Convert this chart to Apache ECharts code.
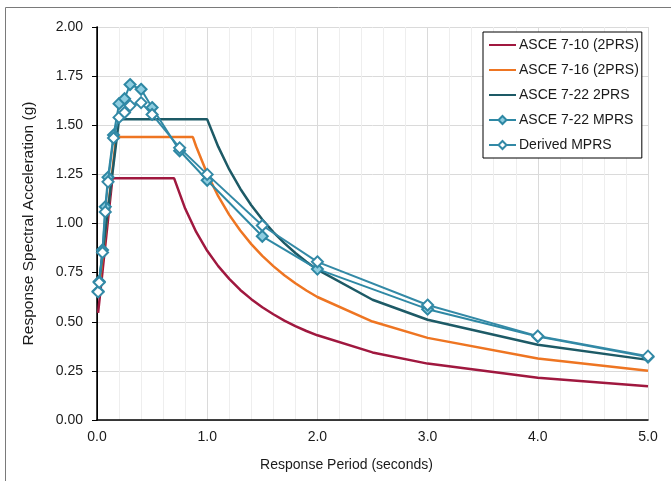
<!DOCTYPE html>
<html>
<head>
<meta charset="utf-8">
<script src="https://cdn.jsdelivr.net/npm/echarts@6/dist/echarts.min.js"></script>
<style>
html,body{margin:0;padding:0;background:#fff;}
#chart{width:671px;height:481px;}
</style>
</head>
<body>
<div id="chart"></div>
<script>
// ---- data ----
const xTicks = [0, 1, 2, 3, 4, 5];
const yTicks = [0, 0.25, 0.5, 0.75, 1.0, 1.25, 1.5, 1.75, 2.0];

const seriesNames = ['ASCE 7-10 (2PRS)', 'ASCE 7-16 (2PRS)', 'ASCE 7-22 2PRS', 'ASCE 7-22 MPRS', 'Derived MPRS'];

const T_710 = [0.01, 0.14, 0.7, 0.8, 0.9, 1.0, 1.1, 1.2, 1.3, 1.4, 1.5, 1.6, 1.7, 1.8, 1.9, 2.0, 2.5, 3.0, 4.0, 5.0];
const V_710 = [0.545, 1.23, 1.23, 1.076, 0.957, 0.861, 0.783, 0.718, 0.662, 0.615, 0.574, 0.538, 0.506, 0.478, 0.453, 0.431, 0.344, 0.287, 0.215, 0.172];

const T_716 = [0.01, 0.174, 0.87, 0.9, 1.0, 1.1, 1.2, 1.3, 1.4, 1.5, 1.6, 1.7, 1.8, 1.9, 2.0, 2.5, 3.0, 4.0, 5.0];
const V_716 = [0.626, 1.44, 1.44, 1.392, 1.253, 1.139, 1.044, 0.964, 0.895, 0.835, 0.783, 0.737, 0.696, 0.659, 0.626, 0.501, 0.418, 0.313, 0.251];

const T_722 = [0.01, 0.2, 1.0, 1.1, 1.2, 1.3, 1.4, 1.5, 1.6, 1.7, 1.8, 1.9, 2.0, 2.5, 3.0, 4.0, 5.0];
const V_722 = [0.658, 1.53, 1.53, 1.391, 1.275, 1.177, 1.093, 1.02, 0.956, 0.9, 0.85, 0.805, 0.765, 0.612, 0.51, 0.383, 0.306];

const T_MPRS = [0.01, 0.02, 0.05, 0.075, 0.1, 0.15, 0.2, 0.25, 0.3, 0.4, 0.5, 0.75, 1.0, 1.5, 2.0, 3.0, 4.0, 5.0];
const V_MPRS = [0.655, 0.705, 0.865, 1.085, 1.235, 1.45, 1.61, 1.635, 1.707, 1.683, 1.59, 1.37, 1.22, 0.935, 0.768, 0.564, 0.425, 0.32];
const V_DERIVED = [0.652, 0.70, 0.852, 1.059, 1.212, 1.435, 1.54, 1.565, 1.60, 1.615, 1.555, 1.385, 1.25, 0.99, 0.805, 0.585, 0.427, 0.325];

const colors = ['#A0183F', '#EE7522', '#1D5A66', '#2E88A4', '#3389A6'];
const markerFills = [null, null, null, '#8ECDE0', '#FFFFFF'];

// ---- build ----
function zip(t, v) { return t.map((x, i) => [x, v[i]]); }
const datasets = [zip(T_710, V_710), zip(T_716, V_716), zip(T_722, V_722), zip(T_MPRS, V_MPRS), zip(T_MPRS, V_DERIVED)];

const FONT = 'Liberation Sans, Arial, sans-serif';
const chart = echarts.init(document.getElementById('chart'), null, {renderer: 'canvas'});

const series = datasets.map((d, i) => {
  const withMarker = markerFills[i] !== null;
  return {
    name: seriesNames[i],
    type: 'line',
    data: d,
    smooth: false,
    z: 2 + i,
    symbol: withMarker ? 'diamond' : 'none',
    symbolSize: withMarker ? 11 : 0,
    showSymbol: withMarker,
    lineStyle: {color: colors[i], width: withMarker ? 2 : 2.5},
    itemStyle: withMarker ? {color: markerFills[i], borderColor: colors[i], borderWidth: 2} : {color: colors[i]},
    emphasis: {disabled: true},
    animation: false
  };
});

const legendData = seriesNames.map((n, i) => markerFills[i] === null
  ? {name: n, itemStyle: {opacity: 0}}
  : {name: n});

const option = {
  animation: false,
  backgroundColor: '#ffffff',
  textStyle: {fontFamily: FONT},
  grid: {left: 97, right: 23, top: 27, bottom: 61, containLabel: false},
  graphic: [{
    type: 'rect',
    shape: {x: 5.5, y: 7.5, width: 720, height: 520},
    style: {fill: 'none', stroke: '#7a7a7a', lineWidth: 1},
    silent: true, z: -1
  }],
  legend: {
    show: true,
    left: 483, top: 32,
    orient: 'vertical',
    itemWidth: 27, itemHeight: 10,
    itemGap: 11,
    padding: [6, 3, 6, 5],
    borderColor: '#000', borderWidth: 1,
    backgroundColor: '#fff',
    textStyle: {fontFamily: FONT, fontSize: 14, color: '#1a1a1a', padding: [0, 0, 0, -2]},
    data: legendData
  },
  xAxis: {
    type: 'value',
    min: xTicks[0], max: xTicks[xTicks.length - 1], interval: 1,
    name: 'Response Period (seconds)',
    nameLocation: 'middle', nameGap: 38,
    nameTextStyle: {fontFamily: FONT, fontSize: 14, color: '#1a1a1a', padding: [0, 52, 0, 0]},
    axisLine: {show: true, onZero: false, lineStyle: {color: '#000', width: 1.5}},
    axisTick: {show: false},
    minorTick: {show: false, splitNumber: 5},
    axisLabel: {fontFamily: FONT, fontSize: 14, color: '#1a1a1a', margin: 10, formatter: v => v.toFixed(1)},
    splitLine: {show: true, lineStyle: {color: '#DADADA', width: 1}},
    minorSplitLine: {show: true, lineStyle: {color: '#EEEEEE', width: 1}}
  },
  yAxis: [{
    type: 'value',
    min: yTicks[0], max: yTicks[yTicks.length - 1], interval: 0.25,
    name: 'Response Spectral Acceleration (g)',
    nameLocation: 'middle', nameGap: 60,
    nameTextStyle: {fontFamily: FONT, fontSize: 15.5, color: '#1a1a1a'},
    axisLine: {show: true, onZero: false, lineStyle: {color: '#000', width: 1.5}},
    axisTick: {show: true, inside: false, length: 5, lineStyle: {color: '#000', width: 1}},
    axisLabel: {fontFamily: FONT, fontSize: 14, color: '#1a1a1a', margin: 14, formatter: v => v.toFixed(2)},
    splitLine: {show: true, lineStyle: {color: '#DADADA', width: 1}}
  }, {
    type: 'value', position: 'right',
    min: yTicks[0], max: yTicks[yTicks.length - 1], interval: 0.25,
    axisLine: {show: true, lineStyle: {color: '#000', width: 1}},
    axisTick: {show: false}, axisLabel: {show: false}, splitLine: {show: false}
  }],
  series: series
};
chart.setOption(option);
</script>
</body>
</html>
